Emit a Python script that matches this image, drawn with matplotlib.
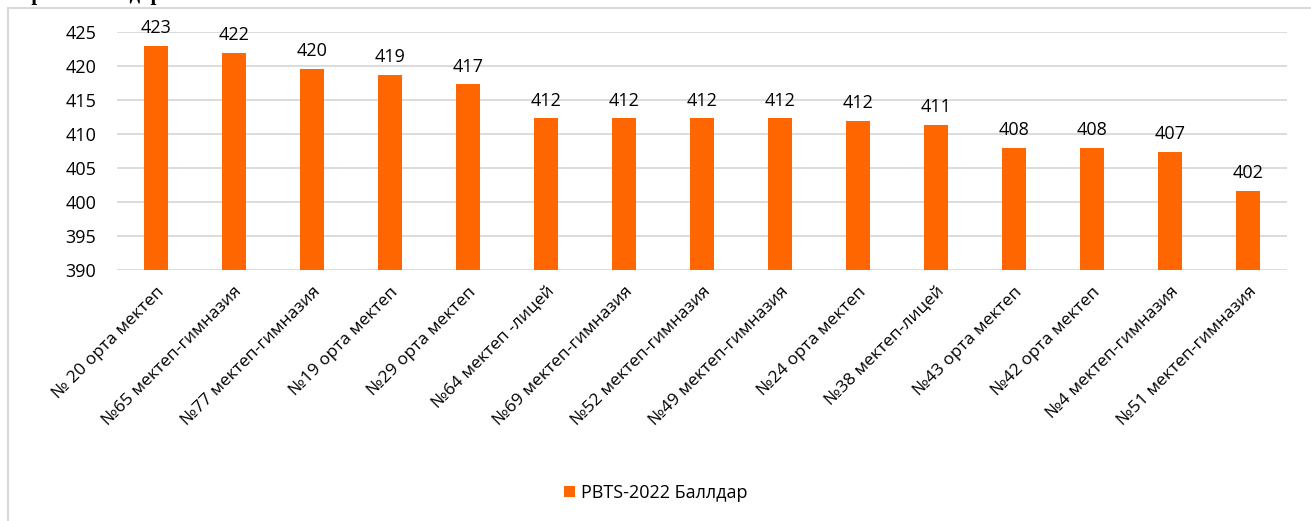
import numpy as np
import matplotlib.pyplot as plt
from matplotlib.patches import Rectangle

plt.rcParams['font.family'] = ['Open Sans', 'DejaVu Sans']

schools = ["№ 20 орта мектеп", "№65 мектеп-гимназия", "№77 мектеп-гимназия",
           "№19 орта мектеп", "№29 орта мектеп", "№64 мектеп -лицей",
           "№69 мектеп-гимназия", "№52 мектеп-гимназия", "№49 мектеп-гимназия",
           "№24 орта мектеп", "№38 мектеп-лицей", "№43 орта мектеп",
           "№42 орта мектеп", "№4 мектеп-гимназия", "№51 мектеп-гимназия"]
scores = [422.9, 421.9, 419.6, 418.7, 417.3, 412.3, 412.3, 412.3, 412.3,
          411.9, 411.3, 407.9, 407.9, 407.4, 401.6]
yticks = [390, 395, 400, 405, 410, 415, 420, 425]
series_name = "PBTS-2022 Баллдар"
color = "#FF6600"

fig = plt.figure(figsize=(13.11, 5.21), dpi=100)
ax = fig.add_axes([0.0892, 0.4818, 0.8928, 0.4568])

x = np.arange(len(schools))
bars = ax.bar(x, scores, width=0.31, color=color, label=series_name, zorder=3)
for xi, v in zip(x, scores):
    ax.text(xi, v + 1.3, f"{v:.0f}", ha="center", va="bottom", fontsize=13, zorder=4)

ax.set_ylim(390, 425)
ax.set_xlim(-0.5, len(schools) - 0.5)
ax.set_yticks(yticks)
ax.tick_params(axis="y", length=0, labelsize=13, pad=15)
ax.set_xticks(x)
ax.set_xticklabels(schools, rotation=45, ha="right", rotation_mode="anchor", fontsize=12.5)
ax.tick_params(axis="x", length=0, pad=10)
ax.yaxis.grid(True, color="#D9D9D9", linewidth=1.3, zorder=0)
for s in ax.spines.values():
    s.set_visible(False)

ax.legend(loc="center", bbox_to_anchor=(0.5, (521 - 493) / 521), bbox_transform=fig.transFigure,
          frameon=False, fontsize=13, handlelength=0.6, handleheight=0.6, handletextpad=0.35)

# chart frame (partly cropped)
fig.patches.append(Rectangle((8 / 1311, -0.1), 1.2, (521 - 8) / 521 + 0.1, transform=fig.transFigure,
                             fill=False, edgecolor="#D9D9D9", linewidth=1.5))
# clipped heading from the page above
fig.text(162 / 1311, 1.0, "Орташа балдар", ha="right", va="baseline", fontsize=15,
         fontweight="bold", family="Liberation Serif")

fig.savefig("out.png", dpi=100)
